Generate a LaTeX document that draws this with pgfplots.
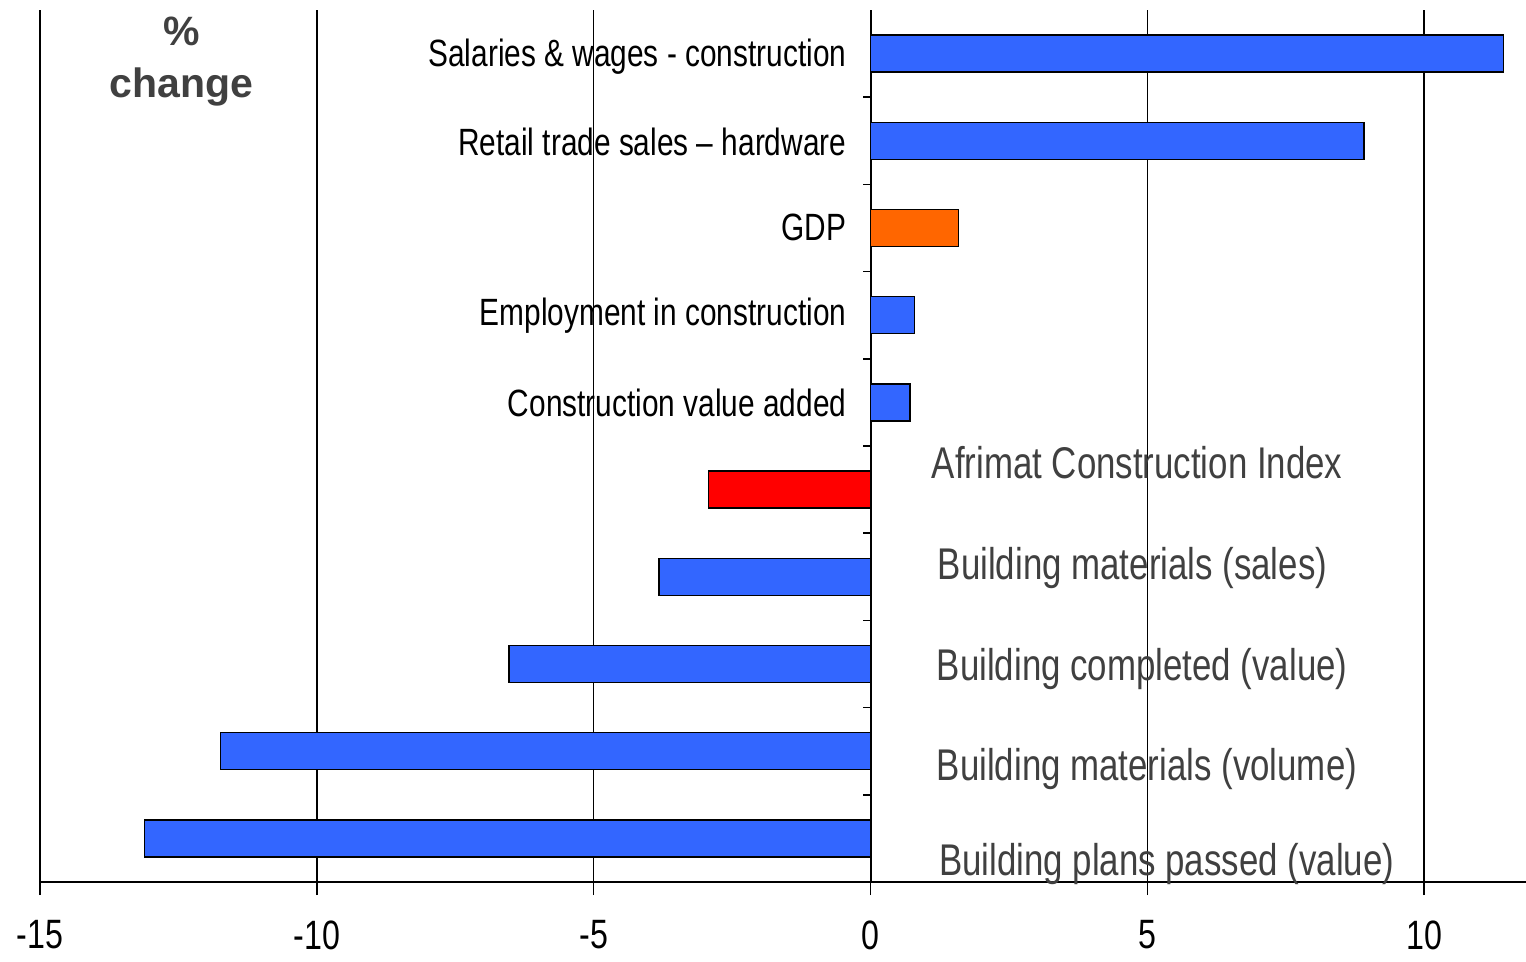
\documentclass[border=0pt]{standalone}
\usepackage{fontspec}
\setmainfont{Liberation Sans}[FakeStretch=0.785]
\newfontfamily\widesans{Liberation Sans}
\usepackage{pgfplots}
\usepackage{pgfplotstable}
\pgfplotsset{compat=1.18}

\definecolor{barblue}{HTML}{3366FF}
\definecolor{barorange}{HTML}{FF6600}
\definecolor{barred}{HTML}{FF0000}
\definecolor{labgray}{HTML}{404040}

% position (category slot) and % change
\pgfplotstableread{
pos val
9.5 11.43
8.5 8.91
6.5 0.80
5.5 0.71
3.5 -3.82
2.5 -6.53
1.5 -11.74
0.5 -13.11
}\bluedata
\pgfplotstableread{
pos val
7.5 1.59
}\gdpdata
\pgfplotstableread{
pos val
4.5 -2.93
}\afrimatdata

\begin{document}
\begin{tikzpicture}
\begin{axis}[
  scale only axis,
  width=743pt, height=436pt,
  xmin=-15, xmax=11.84,
  ymin=0, ymax=10,
  xbar, bar width=18.5pt, bar shift=0pt,
  axis x line=bottom, axis y line=center,
  axis line style={-, black, line width=1pt},
  xtick={-15,-10,-5,0,5,10},
  xticklabels={-15,-10,-5,0,5,10},
  x tick label style={font=\fontsize{20.5}{24}\selectfont, yshift=-11.5pt, inner sep=1pt},
  tick align=outside, major tick length=6.5pt,
  xtick style={black, line width=0.8pt},
  ytick=\empty,
  xmajorgrids, major grid style={black, line width=0.7pt},
  clip=false,
  every axis plot/.append style={draw=black, line width=0.7pt},
]
\addplot[fill=barblue] table[x=val, y=pos] {\bluedata};
\addplot[fill=barorange] table[x=val, y=pos] {\gdpdata};
\addplot[fill=barred] table[x=val, y=pos] {\afrimatdata};

\pgfplotsinvokeforeach{1,...,9}{\draw[black, line width=0.8pt] (axis cs:0,#1) -- ++(-4pt,0pt);}

\begin{scope}[every node/.style={font=\fontsize{19}{22}\selectfont, anchor=east, inner sep=0pt}]
\node at (axis cs:-0.43,9.46) {Salaries \& wages - construction};
\node at (axis cs:-0.43,8.49) {Retail trade sales \textendash{} hardware};
\node at (axis cs:-0.43,7.51) {GDP};
\node at (axis cs:-0.43,6.5) {Employment in construction};
\node at (axis cs:-0.43,5.5) {Construction value added};
\end{scope}

\begin{scope}[every node/.style={font=\fontsize{22.2}{26}\selectfont, text=labgray, anchor=west, inner sep=0pt}]
\node at (axis cs:1.10,4.81) {Afrimat Construction Index};
\node at (axis cs:1.21,3.60) {Building materials (sales)};
\node at (axis cs:1.19,2.44) {Building completed (value)};
\node at (axis cs:1.19,1.30) {Building materials (volume)};
\node at (axis cs:1.23,0.21) {Building plans passed (value)};
\end{scope}

\node[font=\widesans\bfseries\fontsize{20.5}{26}\selectfont, text=labgray, align=center, inner sep=0pt]
  at (axis cs:-12.44,9.41) {\%\\change};

\coordinate (bbl) at (axis cs:-15.723,-0.917);
\coordinate (btr) at (axis cs:11.84,10.115);
\end{axis}
\pgfresetboundingbox
\path (bbl) rectangle (btr);
\end{tikzpicture}
\end{document}
